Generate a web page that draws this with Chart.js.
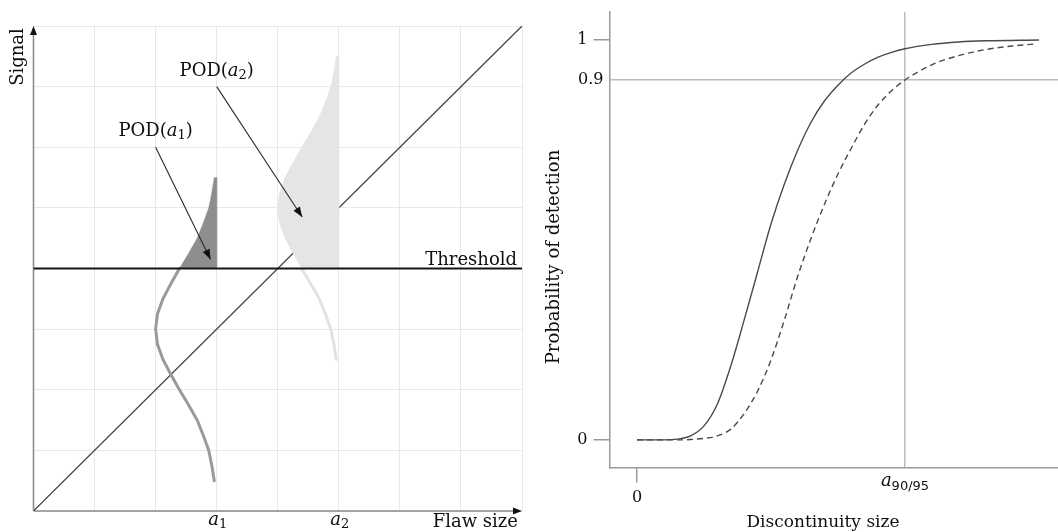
<!DOCTYPE html>
<html><head><meta charset="utf-8">
<script src="https://cdn.jsdelivr.net/npm/chart.js@4"></script>
<style>
html,body{margin:0;padding:0;background:#fff;}
#wrap{position:relative;width:1058px;height:532px;overflow:hidden;background:#fff}
canvas{position:absolute;top:0}
</style></head><body>
<div id="wrap">
<canvas id="left" width="530" height="532" style="left:0"></canvas>
<canvas id="right" width="528" height="532" style="left:530px"></canvas>
</div>
<script>
// ---------- LEFT PANEL DATA ----------
const flawCategories = ['a1', 'a2'];
const flawValues = [3, 5];
const diagonalX = [0, 8];
const diagonalY = [0, 8];
const thresholdX = [0, 8];
const thresholdY = [4, 4];
// signal distribution at a1 (below threshold, drawn as a line)
const a1LowerY = [0.5, 0.75, 1, 1.25, 1.5, 1.75, 2, 2.25, 2.5, 2.75, 3, 3.25, 3.5, 3.75, 4];
const a1LowerX = [2.96, 2.92, 2.87, 2.78, 2.68, 2.54, 2.39, 2.25, 2.12, 2.03, 2.0, 2.03, 2.12, 2.25, 2.39];
// POD(a1) area above threshold
const a1FillY = [4, 4.25, 4.5, 4.75, 5, 5.25, 5.5, 5.5, 4];
const a1FillX = [2.39, 2.54, 2.68, 2.78, 2.87, 2.92, 2.96, 3.0, 3.0];
// signal distribution at a2
const a2LowerY = [2.5, 2.75, 3, 3.25, 3.5, 3.75, 4];
const a2LowerX = [4.96, 4.92, 4.87, 4.78, 4.68, 4.54, 4.39];
const a2FillY = [4, 4.25, 4.5, 4.75, 5, 5.25, 5.5, 5.75, 6, 6.25, 6.5, 6.75, 7, 7.25, 7.5, 7.5, 4];
const a2FillX = [4.39, 4.25, 4.12, 4.03, 4.0, 4.03, 4.12, 4.25, 4.39, 4.54, 4.68, 4.78, 4.87, 4.92, 4.96, 5.0, 5.0];
// annotation arrows (data units)
const podLabels = ['1', '2'];
const podArrowFrom = [[2.0, 6.0], [3.0, 7.0]];
const podArrowTo = [[2.9, 4.15], [4.4, 4.85]];

// ---------- RIGHT PANEL DATA ----------
const podSolidX = [0, 1.0, 1.5, 2.0, 2.5, 3.0, 3.5, 4.0, 4.5, 5.0, 5.5, 6.0, 6.5, 7.0, 7.5, 8.0, 8.5, 9.0, 9.5, 10.0, 11.0, 12.0, 13.0, 15.0];
const podSolidY = [0, 0, 0.002, 0.01, 0.035, 0.09, 0.185, 0.30, 0.42, 0.54, 0.64, 0.725, 0.795, 0.848, 0.887, 0.918, 0.94, 0.957, 0.969, 0.978, 0.989, 0.995, 0.998, 1.0];
const podDashX = [0, 1.5, 2.0, 2.5, 3.0, 3.5, 4.0, 4.5, 5.0, 5.5, 6.0, 6.5, 7.0, 7.5, 8.0, 8.5, 9.0, 9.5, 10.0, 11.0, 12.0, 13.0, 14.0, 14.85];
const podDashY = [0, 0, 0.001, 0.004, 0.01, 0.027, 0.066, 0.122, 0.2, 0.3, 0.41, 0.505, 0.59, 0.665, 0.73, 0.79, 0.838, 0.873, 0.9, 0.938, 0.961, 0.976, 0.985, 0.99];
const podYTicks = [0, 0.9, 1];
const podYTickLabels = ['0', '0.9', '1'];
const podXTicks = [0, 10];

const pts = (xs, ys) => xs.map((x, i) => ({x: x, y: ys[i]}));
const SERIF = '"DejaVu Serif", serif';
const TXT = '#0f0f0f';

function drawParts(ctx, parts, x, y, align) {
  let w = 0;
  parts.forEach(p => { ctx.font = p.f; w += ctx.measureText(p.t).width; });
  let cx = align === 'center' ? x - w / 2 : (align === 'right' ? x - w : x);
  ctx.textAlign = 'left';
  ctx.textBaseline = 'alphabetic';
  parts.forEach(p => {
    ctx.font = p.f;
    ctx.fillText(p.t, cx, y + (p.dy || 0));
    cx += ctx.measureText(p.t).width;
  });
}
function arrowHead(ctx, x0, y0, x1, y1, len, half) {
  const a = Math.atan2(y1 - y0, x1 - x0);
  ctx.beginPath();
  ctx.moveTo(x1, y1);
  ctx.lineTo(x1 - len * Math.cos(a) + half * Math.sin(a), y1 - len * Math.sin(a) - half * Math.cos(a));
  ctx.lineTo(x1 - len * Math.cos(a) - half * Math.sin(a), y1 - len * Math.sin(a) + half * Math.cos(a));
  ctx.closePath();
  ctx.fill();
}

const leftDecor = {
  id: 'leftDecor',
  beforeDatasetsDraw(chart) {
    const ctx = chart.ctx, xs = chart.scales.x, ys = chart.scales.y;
    const x0 = xs.getPixelForValue(0), y0 = ys.getPixelForValue(0);
    const x8 = xs.getPixelForValue(8), y8 = ys.getPixelForValue(8);
    ctx.save();
    ctx.strokeStyle = '#8c8c8c'; ctx.lineWidth = 1.6;
    ctx.beginPath(); ctx.moveTo(x0, y0); ctx.lineTo(x0, y8 + 4); ctx.stroke();
    ctx.beginPath(); ctx.moveTo(x0, y0); ctx.lineTo(x8 - 4, y0); ctx.stroke();
    ctx.fillStyle = '#111';
    arrowHead(ctx, x0, y0, x0, y8, 9, 3.5);
    arrowHead(ctx, x0, y0, x8, y0, 9, 3.5);
    ctx.restore();
  },
  afterDatasetsDraw(chart) {
    const ctx = chart.ctx, xs = chart.scales.x, ys = chart.scales.y;
    ctx.save();
    ctx.strokeStyle = '#2a2a2a'; ctx.fillStyle = '#111'; ctx.lineWidth = 1.1;
    podArrowFrom.forEach((f, i) => {
      const ax = xs.getPixelForValue(f[0]), ay = ys.getPixelForValue(f[1]);
      const bx = xs.getPixelForValue(podArrowTo[i][0]), by = ys.getPixelForValue(podArrowTo[i][1]);
      ctx.beginPath(); ctx.moveTo(ax, ay); ctx.lineTo(bx, by); ctx.stroke();
      arrowHead(ctx, ax, ay, bx, by, 10, 3.8);
      ctx.fillStyle = TXT;
      drawParts(ctx, [
        {t: 'POD(', f: '18px ' + SERIF},
        {t: 'a', f: 'italic 18px ' + SERIF},
        {t: podLabels[i], f: '13px ' + SERIF, dy: 3},
        {t: ')', f: '18px ' + SERIF}
      ], ax, ay - 11, 'center');
      ctx.fillStyle = '#111';
    });
    ctx.fillStyle = TXT;
    ctx.font = '18px ' + SERIF;
    ctx.textAlign = 'right'; ctx.textBaseline = 'alphabetic';
    ctx.fillText('Threshold', xs.getPixelForValue(8) - 5, ys.getPixelForValue(4) - 4);
    ctx.fillText('Flaw size', xs.getPixelForValue(8) - 4, 527);
    flawValues.forEach((v, i) => {
      drawParts(ctx, [
        {t: 'a', f: 'italic 18px ' + SERIF},
        {t: flawCategories[i].slice(1), f: '13px ' + SERIF, dy: 3}
      ], xs.getPixelForValue(v) + 1, 525, 'center');
    });
    ctx.save();
    ctx.translate(18, 57);
    ctx.rotate(-Math.PI / 2);
    ctx.font = '18px ' + SERIF; ctx.textAlign = 'center'; ctx.textBaseline = 'middle';
    ctx.fillText('Signal', 0, 0);
    ctx.restore();
    ctx.restore();
  }
};

new Chart(document.getElementById('left'), {
  type: 'line',
  data: {
    datasets: [
      {data: pts(thresholdX, thresholdY), borderColor: '#151515', borderWidth: 2, order: 1, tension: 0},
      {data: pts(a1LowerX, a1LowerY), borderColor: '#9a9a9a', borderWidth: 3, borderCapStyle: 'round', order: 3, tension: 0},
      {data: pts(a2LowerX, a2LowerY), borderColor: '#e2e2e2', borderWidth: 3, borderCapStyle: 'round', order: 3, tension: 0},
      {data: pts(a1FillX, a1FillY), borderColor: '#8e8e8e', borderWidth: 0.5, backgroundColor: '#8e8e8e', fill: 'shape', order: 4, tension: 0},
      {data: pts(a2FillX, a2FillY), borderColor: '#e5e5e5', borderWidth: 0.5, backgroundColor: '#e5e5e5', fill: 'shape', order: 5, tension: 0},
      {data: pts(diagonalX, diagonalY), borderColor: '#444', borderWidth: 1.25, order: 10, tension: 0}
    ]
  },
  options: {
    responsive: false, animation: false, events: [], devicePixelRatio: 1,
    layout: {padding: {left: 33.5, top: 26, right: 8, bottom: 21}},
    elements: {point: {radius: 0}},
    plugins: {legend: {display: false}, tooltip: {enabled: false}},
    scales: {
      x: {type: 'linear', min: 0, max: 8, ticks: {display: false, stepSize: 1}, grid: {color: '#e8e8e8', drawTicks: false}, border: {display: false}},
      y: {type: 'linear', min: 0, max: 8, ticks: {display: false, stepSize: 1}, grid: {color: '#e8e8e8', drawTicks: false}, border: {display: false}}
    }
  },
  plugins: [leftDecor]
});

const rightDecor = {
  id: 'rightDecor',
  afterDraw(chart) {
    const ctx = chart.ctx, xs = chart.scales.x, ys = chart.scales.y;
    ctx.save();
    ctx.fillStyle = TXT;
    ctx.font = '16px ' + SERIF; ctx.textBaseline = 'middle'; ctx.textAlign = 'right';
    podYTicks.forEach((v, i) => {
      const off = v === 0.9 ? 6 : 22;
      ctx.fillText(podYTickLabels[i], chart.chartArea.left - off, ys.getPixelForValue(v));
    });
    ctx.textAlign = 'center'; ctx.textBaseline = 'top';
    ctx.fillText('0', xs.getPixelForValue(podXTicks[0]), 490);
    drawParts(ctx, [
      {t: 'a', f: 'italic 18px ' + SERIF},
      {t: '90/95', f: '13px "DejaVu Sans", sans-serif', dy: 4}
    ], xs.getPixelForValue(podXTicks[1]), 486, 'center');
    ctx.font = '17px ' + SERIF; ctx.textAlign = 'center'; ctx.textBaseline = 'alphabetic';
    ctx.fillText('Discontinuity size', 293, 527);
    ctx.translate(24, 257);
    ctx.rotate(-Math.PI / 2);
    ctx.font = '18px ' + SERIF; ctx.textBaseline = 'middle';
    ctx.fillText('Probability of detection', 0, 0);
    ctx.restore();
  }
};

new Chart(document.getElementById('right'), {
  type: 'line',
  data: {
    datasets: [
      {data: pts(podSolidX, podSolidY), borderColor: '#4a4a4a', borderWidth: 1.4, cubicInterpolationMode: 'monotone'},
      {data: pts(podDashX, podDashY), borderColor: '#4a4a4a', borderWidth: 1.4, borderDash: [6, 4], cubicInterpolationMode: 'monotone'}
    ]
  },
  options: {
    responsive: false, animation: false, events: [], devicePixelRatio: 1,
    layout: {padding: {left: 63.5, top: 12, right: 0, bottom: 49.5}},
    elements: {point: {radius: 0}},
    plugins: {legend: {display: false}, tooltip: {enabled: false}},
    scales: {
      x: {
        type: 'linear', min: -1.026, max: 15.71,
        afterBuildTicks: s => { s.ticks = podXTicks.map(v => ({value: v})); },
        ticks: {display: false},
        grid: {
          color: c => (c.tick && c.tick.value === 10) ? '#bdbdbd' : 'rgba(0,0,0,0)',
          tickColor: c => (c.tick && c.tick.value === 0) ? '#9a9a9a' : 'rgba(0,0,0,0)',
          lineWidth: 1.5, tickLength: 15, drawTicks: true
        },
        border: {display: true, color: '#9a9a9a', width: 1.5}
      },
      y: {
        type: 'linear', min: -0.069, max: 1.07,
        afterBuildTicks: s => { s.ticks = podYTicks.map(v => ({value: v})); },
        ticks: {display: false},
        grid: {
          color: c => (c.tick && c.tick.value === 0.9) ? '#bdbdbd' : 'rgba(0,0,0,0)',
          tickColor: c => (c.tick && c.tick.value !== 0.9) ? '#9a9a9a' : 'rgba(0,0,0,0)',
          lineWidth: 1.5, tickLength: 16, drawTicks: true
        },
        border: {display: true, color: '#9a9a9a', width: 1.5}
      }
    }
  },
  plugins: [rightDecor]
});
</script>
</body></html>
